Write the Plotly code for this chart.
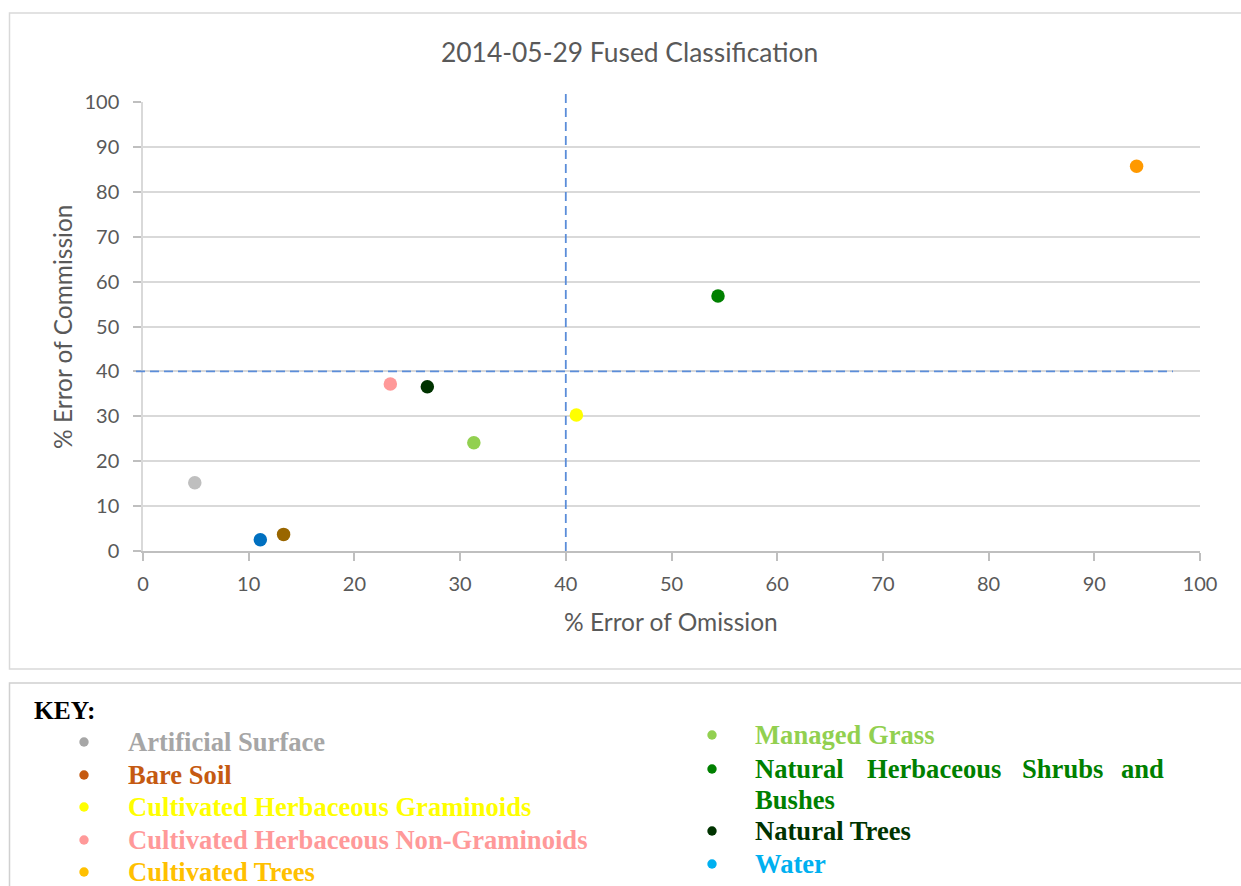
import plotly.graph_objects as go

# ---- data -------------------------------------------------------------
categories = [
    "Artificial Surface",
    "Bare Soil",
    "Cultivated Herbaceous Graminoids",
    "Cultivated Herbaceous Non-Graminoids",
    "Cultivated Trees",
    "Managed Grass",
    "Natural Herbaceous Shrubs and Bushes",
    "Natural Trees",
    "Water",
]
omission_error = [4.9, 13.3, 41.0, 23.4, 94.0, 31.3, 54.4, 26.9, 11.1]
commission_error = [15.2, 3.7, 30.3, 37.2, 85.7, 24.1, 56.8, 36.6, 2.5]
point_colors = ["#BFBFBF", "#996600", "#FFFF00", "#FF9999", "#FF9900",
                "#92D050", "#008000", "#003300", "#0070C0"]
key_colors = ["#A6A6A6", "#C55A11", "#FFFF00", "#FF9999", "#FFC000",
              "#92D050", "#008000", "#003300", "#00B0F0"]
axis_ticks = [0, 10, 20, 30, 40, 50, 60, 70, 80, 90, 100]
omission_threshold = 40
commission_threshold = 40

# ---- page geometry (pixels) -----------------------------------------------
W, H = 1241, 886
L, R, T, B = 143, 1200, 102, 551


def px_x(px):
    return (px - L) / (R - L)


def px_y(py):
    return (B - py) / (B - T)


TEXT = "#595959"
CHART_FONT = "Lato"
KEY_FONT = "Liberation Serif"

fig = go.Figure()

for name, ox, cy, col in zip(categories, omission_error, commission_error, point_colors):
    fig.add_trace(go.Scatter(
        x=[ox], y=[cy], mode="markers", name=name,
        marker=dict(size=13.5, color=col, line=dict(width=0)),
        showlegend=False, cliponaxis=False,
    ))

shapes = []
# outer frames of the chart and of the key
shapes.append(dict(type="rect", xref="paper", yref="paper",
                   x0=px_x(9.5), x1=px_x(1250), y0=px_y(669), y1=px_y(13),
                   line=dict(color="#D9D9D9", width=1.5), layer="below"))
shapes.append(dict(type="rect", xref="paper", yref="paper",
                   x0=px_x(9.5), x1=px_x(1250), y0=px_y(900), y1=px_y(683),
                   line=dict(color="#D0D0D0", width=1.5), layer="below"))
# threshold lines
shapes.append(dict(type="line", xref="x", yref="paper",
                   x0=omission_threshold, x1=omission_threshold,
                   y0=0, y1=px_y(91),
                   line=dict(color="#5B8DD9", width=1.8, dash="9px,5px")))
shapes.append(dict(type="line", xref="paper", yref="y",
                   x0=px_x(136), x1=px_x(1173),
                   y0=commission_threshold, y1=commission_threshold,
                   line=dict(color="#5B8DD9", width=1.8, dash="9px,5px")))

annotations = []
annotations.append(dict(text="2014-05-29 Fused Classification", xref="paper", yref="paper",
                        x=px_x(629), y=px_y(52), xanchor="center", yanchor="middle",
                        showarrow=False, font=dict(family=CHART_FONT, size=26.4, color=TEXT)))
annotations.append(dict(text="% Error of Omission", xref="paper", yref="paper",
                        x=px_x(671), y=px_y(621), xanchor="center", yanchor="middle",
                        showarrow=False, font=dict(family=CHART_FONT, size=24.5, color=TEXT)))
annotations.append(dict(text="% Error of Commission", xref="paper", yref="paper",
                        x=px_x(62), y=px_y(327), xanchor="center", yanchor="middle",
                        textangle=-90, showarrow=False,
                        font=dict(family=CHART_FONT, size=24.5, color=TEXT)))

# ---- key -----------------------------------------------------------------
KEY_SIZE = 26.6
annotations.append(dict(text="<b>KEY:</b>", xref="paper", yref="paper",
                        x=px_x(32), y=px_y(710), xanchor="left", yanchor="middle",
                        showarrow=False, font=dict(family=KEY_FONT, size=25.5, color="#000000")))

left_rows = [742, 775, 807, 840, 872]
right_rows = [735, 769, 831, 864]


def bullet(cx, cy, color):
    r = 4.7
    shapes.append(dict(type="circle", xref="paper", yref="paper",
                       x0=px_x(cx - r), x1=px_x(cx + r),
                       y0=px_y(cy + r), y1=px_y(cy - r),
                       fillcolor=color, line=dict(width=0)))


def key_text(text, x, y, color, anchor="left"):
    annotations.append(dict(text="<b>" + text + "</b>", xref="paper", yref="paper",
                            x=px_x(x), y=px_y(y), xanchor=anchor, yanchor="middle",
                            showarrow=False,
                            font=dict(family=KEY_FONT, size=KEY_SIZE, color=color)))


for i in range(5):
    bullet(84, left_rows[i], key_colors[i])
    key_text(categories[i], 126, left_rows[i], key_colors[i])

right_idx = [5, 6, 7, 8]
for row, i in zip(right_rows, right_idx):
    bullet(712, row, key_colors[i])
    if i == 6:
        # justified first line, remainder wrapped below
        words = categories[i].split()
        key_text(words[0], 753, row, key_colors[i])
        key_text(words[1], 865, row, key_colors[i])
        key_text(words[2], 1020, row, key_colors[i])
        key_text(words[3], 1166, row, key_colors[i], anchor="right")
        key_text(words[4], 753, 800, key_colors[i])
    else:
        key_text(categories[i], 753, row, key_colors[i])

axis_common = dict(
    range=[0, 100], tickvals=axis_ticks, ticktext=[str(v) for v in axis_ticks],
    tickfont=dict(family=CHART_FONT, size=20, color=TEXT),
    ticks="outside", ticklen=8, tickwidth=1.5, tickcolor="#BFBFBF",
    zeroline=False, fixedrange=True,
)

fig.update_layout(
    width=W, height=H,
    margin=dict(l=L, r=W - R, t=T, b=H - B, pad=0),
    paper_bgcolor="white", plot_bgcolor="white",
    xaxis=dict(**axis_common, showgrid=False, showline=True,
               linecolor="#BFBFBF", linewidth=1.5, ticklabelstandoff=6),
    yaxis=dict(**axis_common, showgrid=True, gridcolor="#D9D9D9", gridwidth=1.5,
               showline=True, linecolor="#D9D9D9", linewidth=1.5, ticklabelstandoff=10),
    shapes=shapes,
    annotations=annotations,
    showlegend=False,
)

fig.write_html("out.html")
